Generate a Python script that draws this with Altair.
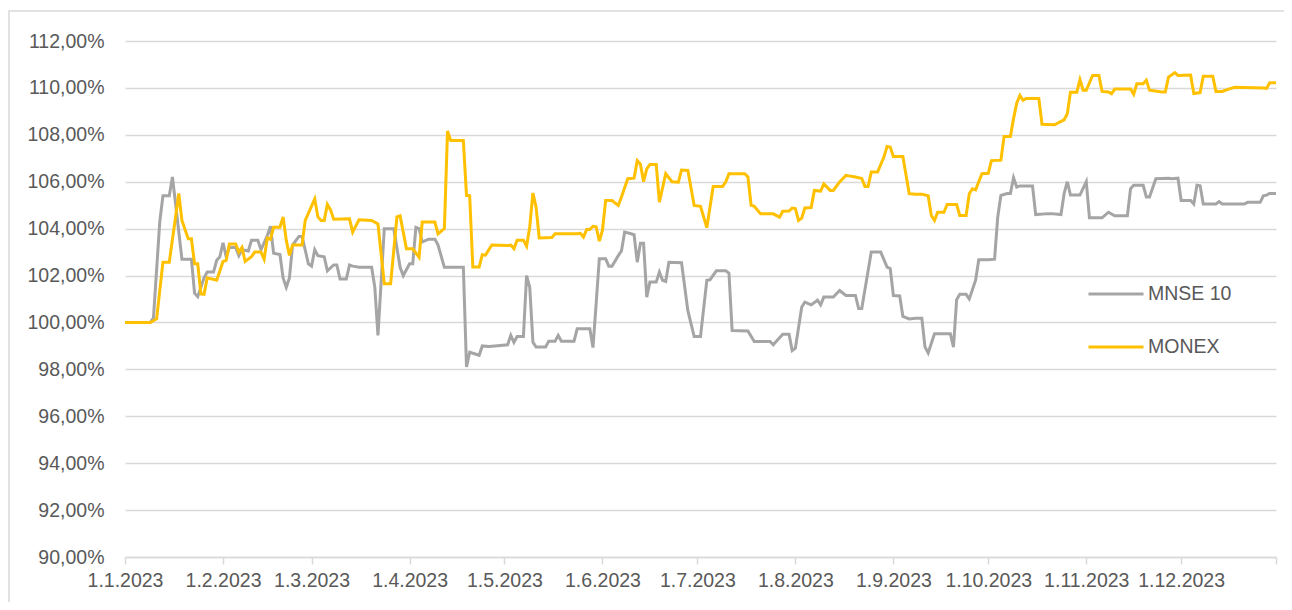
import altair as alt
import pandas as pd

# ---- data (day of year 2023, 0 = 1 Jan; value in %) ----
mnse_days = [0, 8, 9, 11, 12, 14, 15, 16, 18, 21, 22, 23, 25, 26, 28, 29, 30, 31, 32, 33,
             35, 36, 37, 39, 40, 42, 43, 45, 46, 47, 49, 50, 51, 52, 53, 55, 56, 58, 59, 60,
             61, 63, 64, 66, 67, 68, 70, 71, 72, 74, 78, 79, 80, 82, 85, 87, 88, 90, 91, 92,
             93, 94, 96, 98, 99, 101, 107, 108, 109, 112, 113, 115, 117, 121, 122, 123, 124, 126, 127, 128,
             129, 130, 133, 134, 136, 137, 138, 142, 143, 147, 148, 149, 150, 152, 153, 154, 156, 157, 158, 160,
             161, 162, 163, 164, 165, 166, 168, 169, 170, 171, 172, 176, 178, 180, 182, 184, 185, 187, 190, 191,
             192, 197, 199, 204, 205, 208, 210, 211, 212, 214, 215, 217, 219, 220, 221, 224, 226, 228, 231, 232,
             233, 236, 239, 241, 242, 243, 245, 246, 248, 250, 252, 253, 254, 256, 261, 262, 263, 264, 266, 267,
             269, 270, 273, 275, 276, 277, 279, 280, 281, 282, 283, 287, 288, 292, 293, 296, 297, 298, 299, 302,
             304, 305, 309, 311, 313, 317, 318, 319, 322, 323, 324, 326, 330, 331, 333, 334, 337, 338, 339, 340,
             341, 345, 346, 347, 354, 355, 359, 360, 361, 362, 364]
mnse_vals = [100.0, 100.0, 100.2, 104.3, 105.4, 105.4, 106.2, 105.05, 102.7, 102.7, 101.25, 101.1, 101.9, 102.15, 102.15, 102.65, 102.8, 103.4, 102.8, 103.2,
             103.2, 102.85, 103.1, 103.05, 103.5, 103.5, 103.1, 103.7, 104.1, 102.95, 102.9, 101.9, 101.5, 101.9, 103.3, 103.67, 103.67, 102.5, 102.4, 103.1,
             102.85, 102.8, 102.2, 102.45, 102.45, 101.85, 101.85, 102.45, 102.4, 102.35, 102.35, 101.5, 99.45, 104.0, 104.0, 102.35, 102.0, 102.5, 102.5, 104.05,
             104.0, 103.43, 103.55, 103.55, 103.3, 102.35, 102.35, 98.1, 98.73, 98.6, 99.0, 98.98, 99.0, 99.05, 99.45, 99.15, 99.4, 99.4, 102.0, 101.5,
             99.16, 98.95, 98.95, 99.2, 99.2, 99.45, 99.2, 99.2, 99.73, 99.73, 98.93, 100.8, 102.72, 102.72, 102.4, 102.4, 102.85, 103.05, 103.85, 103.78,
             103.74, 102.57, 103.38, 103.38, 101.08, 101.72, 101.72, 102.15, 101.8, 101.75, 102.57, 102.55, 100.5, 99.4, 99.4, 101.8, 101.82, 102.2, 102.2, 102.1,
             99.66, 99.64, 99.19, 99.19, 99.05, 99.5, 99.5, 98.8, 98.9, 100.65, 100.87, 100.75, 100.95, 100.75, 101.08, 101.08, 101.36, 101.15, 101.15, 100.6,
             100.6, 103.0, 103.0, 102.36, 102.3, 101.15, 101.13, 100.26, 100.15, 100.18, 100.18, 98.95, 98.7, 99.52, 99.52, 98.95, 100.97, 101.2, 101.2, 101.0,
             101.8, 102.67, 102.67, 102.7, 104.5, 105.42, 105.5, 105.5, 106.17, 105.77, 105.82, 105.82, 104.6, 104.64, 104.64, 104.6, 105.5, 106.0, 105.43, 105.43,
             106.0, 104.46, 104.46, 104.7, 104.55, 104.55, 105.7, 105.85, 105.85, 105.35, 105.35, 106.13, 106.15, 106.13, 106.15, 105.2, 105.2, 105.05, 105.85, 105.83,
             105.05, 105.05, 105.15, 105.05, 105.05, 105.12, 105.12, 105.4, 105.43, 105.5, 105.5]

monex_days = [0, 8, 10, 12, 14, 16, 17, 18, 20, 21, 22, 23, 24, 25, 26, 29, 31, 32, 33, 35,
              36, 37, 38, 40, 41, 43, 44, 45, 46, 47, 49, 50, 51, 52, 53, 56, 57, 60, 61, 62,
              63, 64, 65, 66, 71, 72, 74, 78, 80, 82, 84, 86, 87, 89, 91, 93, 94, 98, 99, 101,
              102, 103, 107, 108, 109, 110, 112, 113, 114, 116, 121, 122, 123, 124, 126, 127, 128, 129, 130, 131,
              135, 136, 143, 144, 145, 146, 147, 148, 149, 150, 151, 152, 154, 156, 157, 159, 161, 162, 163, 164,
              165, 166, 168, 169, 171, 173, 175, 176, 178, 180, 182, 184, 186, 189, 190, 191, 196, 197, 198, 199,
              201, 205, 207, 208, 210, 211, 212, 213, 214, 215, 217, 218, 220, 221, 223, 224, 226, 228, 229, 231,
              233, 234, 235, 236, 238, 240, 241, 242, 243, 246, 248, 250, 252, 254, 255, 256, 257, 259, 260, 263,
              264, 266, 267, 268, 269, 270, 271, 273, 274, 277, 278, 280, 281, 282, 283, 284, 285, 289, 290, 294,
              296, 297, 298, 299, 301, 302, 303, 304, 306, 308, 309, 311, 312, 313, 318, 319, 320, 322, 323, 324,
              328, 329, 330, 332, 333, 337, 338, 340, 341, 344, 345, 347, 349, 351, 360, 361, 362, 364]
monex_vals = [100.0, 100.0, 100.15, 102.57, 102.57, 104.5, 105.5, 104.35, 103.57, 103.57, 102.5, 102.5, 101.22, 101.2, 101.9, 101.8, 102.6, 102.65, 103.35, 103.35,
              103.0, 103.2, 102.6, 102.8, 103.0, 103.0, 102.7, 103.6, 103.55, 104.06, 104.06, 104.5, 103.5, 102.86, 103.3, 103.3, 104.35, 105.27, 104.5, 104.35,
              104.35, 105.03, 104.8, 104.4, 104.42, 103.85, 104.38, 104.35, 104.2, 101.65, 101.65, 104.5, 104.55, 103.14, 103.14, 102.78, 104.28, 104.28, 103.78, 104.0,
              108.16, 107.76, 107.76, 105.42, 105.4, 102.36, 102.36, 102.89, 102.87, 103.3, 103.28, 103.3, 103.15, 103.5, 103.5, 103.25, 104.07, 105.52, 104.92, 103.6,
              103.62, 103.78, 103.78, 103.8, 103.64, 103.96, 103.96, 104.1, 104.08, 103.47, 103.93, 105.2, 105.2, 104.99, 105.35, 106.13, 106.15, 106.9, 106.75, 106.0,
              106.55, 106.73, 106.73, 105.13, 106.34, 106.0, 105.98, 106.5, 106.48, 104.99, 104.95, 104.04, 105.8, 105.8, 106.0, 106.34, 106.34, 106.2, 105.0, 104.95,
              104.63, 104.63, 104.49, 104.74, 104.75, 104.88, 104.86, 104.35, 104.45, 104.88, 104.9, 105.63, 105.6, 105.91, 105.63, 105.63, 105.99, 106.27, 106.25, 106.2,
              106.14, 105.8, 105.8, 106.41, 106.41, 107.05, 107.5, 107.48, 107.08, 107.08, 105.49, 105.47, 105.47, 105.4, 104.56, 104.35, 104.7, 104.7, 105.03, 105.03,
              104.56, 104.56, 105.49, 105.7, 105.65, 106.0, 106.34, 106.36, 106.9, 106.92, 107.93, 107.93, 108.69, 109.35, 109.68, 109.47, 109.55, 109.55, 108.45, 108.43,
              108.57, 108.64, 108.9, 109.82, 109.82, 110.35, 109.9, 109.9, 110.53, 110.53, 109.85, 109.83, 109.75, 109.95, 109.95, 109.73, 110.18, 110.18, 110.33, 109.9,
              109.83, 109.83, 110.46, 110.65, 110.53, 110.55, 109.76, 109.8, 110.5, 110.5, 109.85, 109.85, 109.95, 110.03, 110.0, 109.98, 110.22, 110.22]

series_names = ["MNSE 10", "MONEX"]
series_colors = ["#A5A5A5", "#FFC000"]
tick_dates = ["2023-01-01", "2023-02-01", "2023-03-01", "2023-04-01", "2023-05-01", "2023-06-01",
              "2023-07-01", "2023-08-01", "2023-09-01", "2023-10-01", "2023-11-01", "2023-12-01",
              "2023-12-31"]
y_ticks = [90, 92, 94, 96, 98, 100, 102, 104, 106, 108, 110, 112]

# ---- build table ----
start = pd.Timestamp("2023-01-01")
rows = []
for name, days, vals in [(series_names[0], mnse_days, mnse_vals), (series_names[1], monex_days, monex_vals)]:
    for d, v in zip(days, vals):
        rows.append({"date": (start + pd.Timedelta(days=d)).strftime("%Y-%m-%d"), "value": v, "series": name})
df = pd.DataFrame(rows)

tick_ms = [int(pd.Timestamp(t, tz="UTC").value // 10**6) for t in tick_dates]

FONT = "Liberation Sans, Arial"
FS = 19.5
GRID = "#D9D9D9"
TXT = "#595959"

x_enc = alt.X(
    "date:T",
    scale=alt.Scale(type="utc", domain=[tick_ms[0], tick_ms[-1]], nice=False),
    axis=alt.Axis(
        title=None, values=tick_ms, grid=False,
        labelExpr="utcdate(datum.value) == 31 ? '' : utcFormat(datum.value, '%-d.%-m.%Y')",
        domainColor=GRID, domainWidth=1.5, tickColor=GRID, tickWidth=1.5, tickSize=7,
        labelPadding=7, labelFont=FONT, labelFontSize=FS, labelColor=TXT, labelFlush=False,
        labelOverlap=False,
    ),
)
y_enc = alt.Y(
    "value:Q",
    scale=alt.Scale(domain=[90, 112], nice=False, zero=False),
    axis=alt.Axis(
        title=None, values=y_ticks, grid=True, gridColor=GRID, gridWidth=1.5,
        domain=False, ticks=False, labelPadding=21,
        labelExpr="replace(format(datum.value, '.2f'), '.', ',') + '%'",
        labelFont=FONT, labelFontSize=FS, labelColor=TXT,
    ),
)

lines = alt.Chart(df).mark_line(strokeWidth=3, interpolate="linear").encode(
    x=x_enc,
    y=y_enc,
    color=alt.Color(
        "series:N",
        scale=alt.Scale(domain=series_names, range=series_colors),
        legend=alt.Legend(
            title=None, orient="none", legendX=962, legendY=224,
            symbolType="stroke", symbolSize=3025, symbolStrokeWidth=3,
            labelFont=FONT, labelFontSize=FS, labelColor=TXT, labelOffset=3,
            rowPadding=14, padding=0,
        ),
    ),
    order=alt.Order("date:T"),
    detail="series:N",
)

frame = alt.Chart(pd.DataFrame({"k": [0]})).mark_rect(
    fill=None, stroke=GRID, strokeWidth=1.5
).encode(
    x=alt.value(-116), x2=alt.value(1300), y=alt.value(-30), y2=alt.value(700)
)

chart = alt.layer(frame, lines).properties(
    width=1151, height=516,
    autosize=alt.AutoSizeParams(type="none"),
    padding={"left": 117, "top": 33, "right": 8, "bottom": 45},
).configure_view(stroke=None)

chart.save("out.html", embed_options={"renderer": "svg", "actions": False})
